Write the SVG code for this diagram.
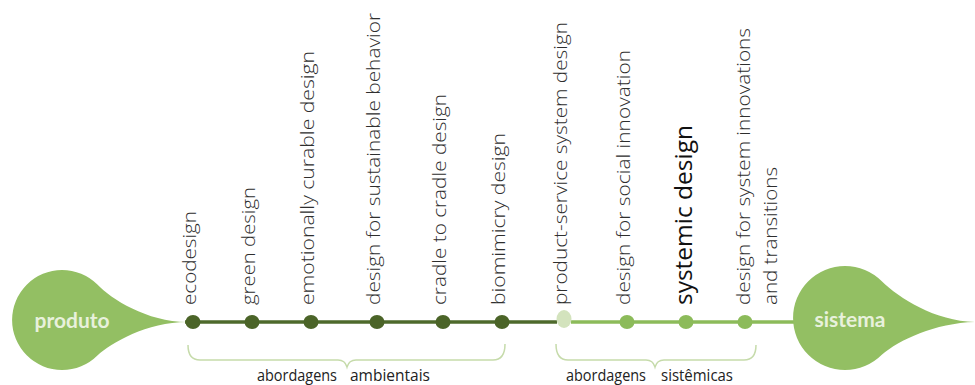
<svg xmlns="http://www.w3.org/2000/svg" width="975" height="385" viewBox="0 0 975 385">
<style>
.blob{fill:#93bf63}
.blobtxt{font-family:Lato,"Liberation Sans",sans-serif;font-weight:700;font-size:21px;fill:#e8f1dc;text-anchor:middle}
.lbl{font-family:"Open Sans","Noto Sans",sans-serif;font-weight:300;font-size:19px;fill:#2e2e2e}
.big{font-family:"Open Sans","Noto Sans",sans-serif;font-weight:400;font-size:24px;fill:#111}
.dk{fill:#4b6428}
.lt{fill:#8cbb5a}
.pale{fill:#d3e3bd}
.brace{fill:none;stroke:#c6dbab;stroke-width:1.5}
.btxt{font-family:"Open Sans","Liberation Sans",sans-serif;font-size:15.5px;fill:#222}
</style>
<g id="connectors">
<line x1="185" y1="322" x2="557" y2="322" stroke="#4e6a2c" stroke-width="3.5"/>
<line x1="571" y1="322" x2="830" y2="322" stroke="#8cbb5a" stroke-width="3.5"/>
</g>
<g id="produto">
<path class="blob" d="M187,322 C147,322 111,299 97.4,284.6 A50 50 0 1 0 97.4,355.4 C111,343 147,322 187,322 Z"/>
<text class="blobtxt" x="72" y="328">produto</text>
</g>
<g id="sistema">
<path class="blob" d="M975,322 C935,321 899,298 881.8,281.2 A52 52 0 1 0 881.8,354.8 C899,340 935,323 975,322 Z"/>
<text class="blobtxt" x="850" y="327">sistema</text>
</g>
<g id="n-ecodesign"><ellipse class="dk" cx="193" cy="322" rx="7.5" ry="7"/><text class="lbl" transform="translate(195.5,305) rotate(-90)" textLength="94" lengthAdjust="spacingAndGlyphs">ecodesign</text></g>
<g id="n-green"><ellipse class="dk" cx="252" cy="322" rx="7.5" ry="7"/><text class="lbl" transform="translate(254.5,305) rotate(-90)" textLength="118" lengthAdjust="spacingAndGlyphs">green design</text></g>
<g id="n-emotionally"><ellipse class="dk" cx="311" cy="322" rx="7.5" ry="7"/><text class="lbl" transform="translate(313.5,305) rotate(-90)" textLength="254" lengthAdjust="spacingAndGlyphs">emotionally curable design</text></g>
<g id="n-behavior"><ellipse class="dk" cx="377" cy="322" rx="7.5" ry="7"/><text class="lbl" transform="translate(379.5,305) rotate(-90)" textLength="292" lengthAdjust="spacingAndGlyphs">design for sustainable behavior</text></g>
<g id="n-cradle"><ellipse class="dk" cx="443" cy="322" rx="7.5" ry="7"/><text class="lbl" transform="translate(445.5,305) rotate(-90)" textLength="211" lengthAdjust="spacingAndGlyphs">cradle to cradle design</text></g>
<g id="n-biomimicry"><ellipse class="dk" cx="502" cy="322" rx="7.5" ry="7"/><text class="lbl" transform="translate(505,305) rotate(-90)" textLength="172" lengthAdjust="spacingAndGlyphs">biomimicry design</text></g>
<g id="n-pss"><ellipse class="pale" cx="564" cy="319" rx="7.5" ry="9"/><text class="lbl" transform="translate(567,305) rotate(-90)" textLength="283" lengthAdjust="spacingAndGlyphs">product-service system design</text></g>
<g id="n-social"><ellipse class="lt" cx="627" cy="322" rx="7.5" ry="7"/><text class="lbl" transform="translate(630,305) rotate(-90)" textLength="255" lengthAdjust="spacingAndGlyphs">design for social innovation</text></g>
<g id="n-systemic"><ellipse class="lt" cx="686" cy="322" rx="7.5" ry="7"/><text class="big" transform="translate(692,305) rotate(-90)" textLength="180" lengthAdjust="spacingAndGlyphs">systemic design</text></g>
<g id="n-transitions"><ellipse class="lt" cx="745" cy="322" rx="7.5" ry="7"/><text class="lbl" transform="translate(749.5,305) rotate(-90)"><tspan x="0" y="0" textLength="277" lengthAdjust="spacingAndGlyphs">design for system innovations</tspan><tspan x="0" y="27" textLength="138" lengthAdjust="spacingAndGlyphs">and transitions</tspan></text></g>
<g id="brace-ambientais">
<path class="brace" d="M188,345 Q188,360 200,360 L338,360 Q345,360 347,367 Q349,360 356,360 L493,360 Q505,360 505,344"/>
<text class="btxt" y="381"><tspan x="257" textLength="80" lengthAdjust="spacingAndGlyphs">abordagens</tspan><tspan x="350" textLength="80" lengthAdjust="spacingAndGlyphs">ambientais</tspan></text>
</g>
<g id="brace-sistemicas">
<path class="brace" d="M556,344 Q556,360 568,360 L646,360 Q653,360 655,367 Q657,360 664,360 L744,360 Q756,360 756,345"/>
<text class="btxt" y="381"><tspan x="566" textLength="80" lengthAdjust="spacingAndGlyphs">abordagens</tspan><tspan x="661" textLength="72" lengthAdjust="spacingAndGlyphs">sistêmicas</tspan></text>
</g>
</svg>
